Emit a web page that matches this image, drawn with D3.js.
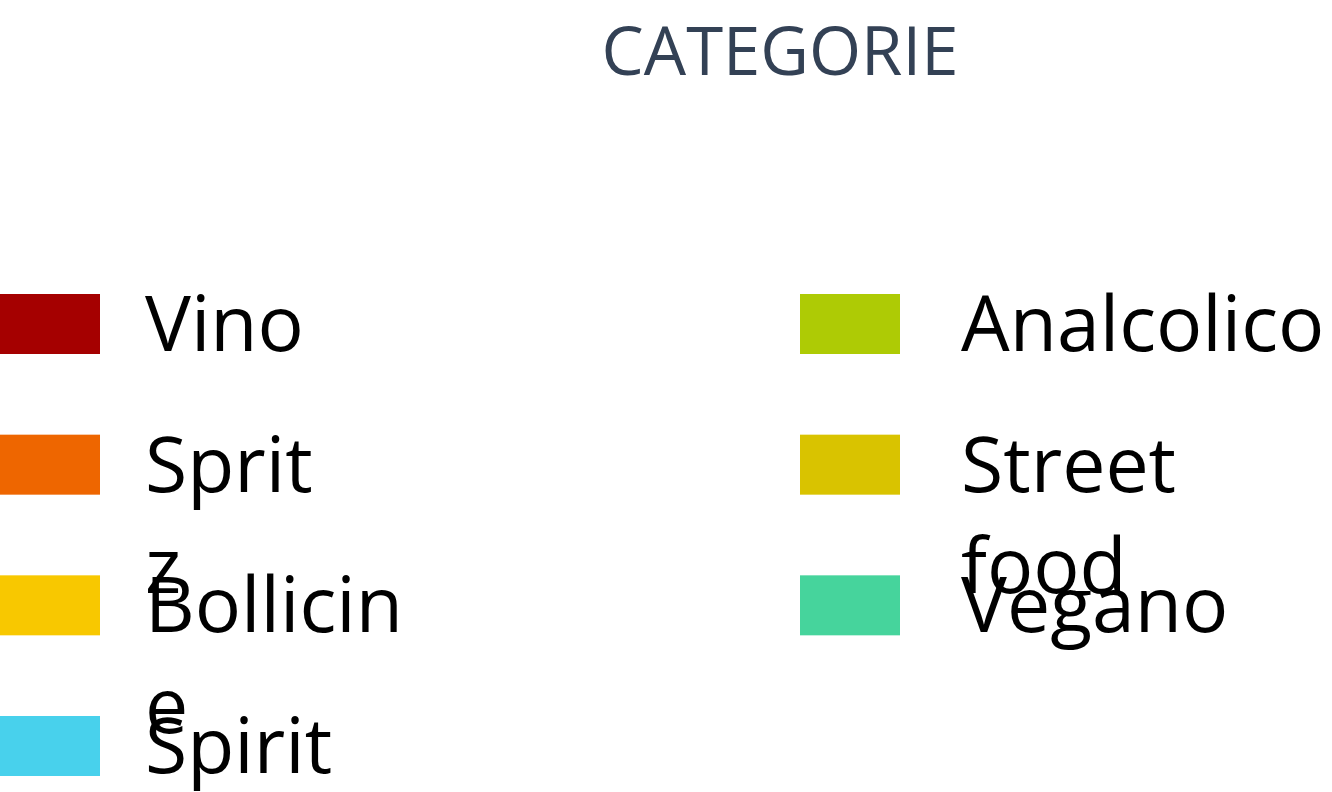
<!DOCTYPE html>
<html>
<head>
<meta charset="utf-8">
<script src="https://cdn.jsdelivr.net/npm/d3@7"></script>
<style>
  html, body { margin: 0; padding: 0; background: #ffffff; }
  svg { display: block; }
</style>
</head>
<body>
<svg id="chart" width="1332" height="792"></svg>
<script>
const title = "CATEGORIE";
const categories = ["Vino", "Spritz", "Bollicine", "Spirit", "Analcolico", "Street food", "Vegano"];
// lines as wrapped in the reference
const labelLines = [["Vino"], ["Sprit", "z"], ["Bollicin", "e"], ["Spirit"], ["Analcolico"], ["Street", "food"], ["Vegano"]];
const colors = ["#a50000", "#ee6600", "#f8c800", "#48d1ec", "#aecb05", "#d9c300", "#46d49c"];
const columnOf = [0, 0, 0, 0, 1, 1, 1];
const rowOf = [0, 1, 2, 3, 0, 1, 2];

const svg = d3.select("#chart");
const font = "'Open Sans', 'Noto Sans', sans-serif";

svg.append("text")
  .attr("x", 780).attr("y", 75)
  .attr("text-anchor", "middle")
  .attr("font-family", font)
  .attr("font-size", 67)
  .attr("fill", "#334155")
  .text(title);

const xCol = d3.scalePoint().domain([0, 1]).range([0, 800]);
const yRow = d3.scalePoint().domain([0, 1, 2, 3]).range([294, 716]);

const items = categories.map((c, i) => ({ name: c, lines: labelLines[i], color: colors[i], col: columnOf[i], row: rowOf[i] }));

const g = svg.append("g").selectAll("g.item").data(items).join("g")
  .attr("class", "item")
  .attr("transform", d => `translate(${xCol(d.col)},${yRow(d.row)})`);

g.append("rect")
  .attr("x", 0).attr("y", 0)
  .attr("width", 100).attr("height", 60)
  .attr("fill", d => d.color);

const labelX = d => d.col === 0 ? 145 : 161;

const t = g.append("text")
  .attr("x", labelX)
  .attr("y", 57)
  .attr("font-family", font)
  .attr("font-size", 77)
  .attr("fill", "#000000");

t.selectAll("tspan").data(d => d.lines.map((l, k) => ({ l, k, x: labelX(d) }))).join("tspan")
  .attr("x", d => d.x)
  .attr("dy", d => d.k === 0 ? 0 : 101)
  .text(d => d.l);
</script>
</body>
</html>
